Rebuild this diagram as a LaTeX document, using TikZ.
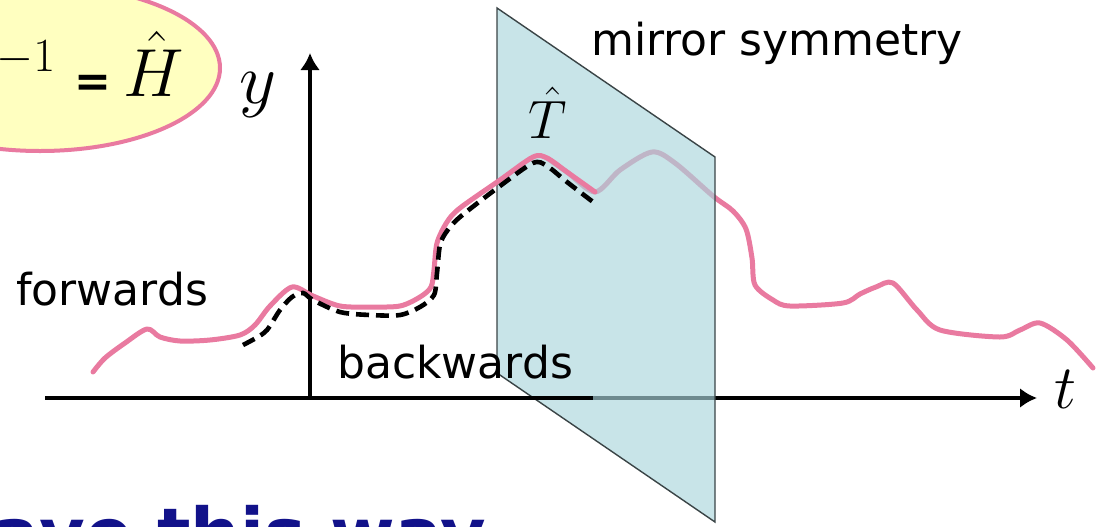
\RequirePackage{fix-cm}
\documentclass[tikz,border=0pt]{standalone}
\usepackage{fontspec}
\setmainfont{DejaVu Sans}
\usetikzlibrary{arrows.meta,positioning}
\definecolor{curvepink}{HTML}{E97AA0}
\definecolor{bubblefill}{HTML}{FFFFC0}
\definecolor{planeblue}{HTML}{AAD5DC}
\definecolor{planeedge}{HTML}{3A4446}
\definecolor{navy}{HTML}{12128A}
\tikzset{
  axisline/.style={draw=black,line width=2pt},
  axisarrow/.style={-{Latex[length=8.5pt,width=10pt]},draw=black,line width=2pt},
  fwdline/.style={draw=curvepink,line width=2.5pt,line join=round,line cap=round},
  bwdline/.style={draw=black,line width=2.3pt,dash pattern=on 6.5pt off 3.5pt},
  planebox/.style={fill=planeblue,fill opacity=0.65,draw=planeedge,line width=0.7pt},
  bubble/.style={fill=bubblefill,draw=curvepink,line width=2pt},
  labeltext/.style={font=\fontsize{22}{26}\selectfont,inner sep=0pt},
  mathlabel/.style={inner sep=0pt}
}

\begin{document}
\begin{tikzpicture}[x=0.5pt,y=-0.5pt]
      \useasboundingbox (0,0) rectangle (1099,526);
      \draw[bubble] (40,68) ellipse [x radius=180,y radius=83];
      \node[mathlabel,font=\fontsize{34}{38}\selectfont,anchor=base east] (eqn) at (184,96)
        {$\hat{T}\hat{H}\hat{T}^{-1}\mkern0mu\mathrel{\mbox{\fontsize{22}{26}\selectfont\bfseries =}}\mkern-2mu\hat{H}$};
      \coordinate (tstart) at (45,398);
      \coordinate (tend) at (1037,398);
      \coordinate (orig) at (310,398);
      \coordinate (ytop) at (310,53);
      \coordinate (front) at (593,398);
      \coordinate (p1) at (497,8);
      \coordinate (p2) at (715,157);
      \coordinate (p3) at (715,522);
      \coordinate (p4) at (497,373);
      \draw[axisarrow] (tstart) -- (tend);
      \draw[axisarrow] (orig) -- (ytop);
      \draw[fwdline] plot[smooth,tension=0.5] coordinates {(547,158) (567,172) (595,192)
        (620,170) (652,152) (675,163) (713,196) (733,211) (746,229) (752,258) (755,285)
        (773,300) (790,306) (843,303) (860,294) (876,287) (893,283) (917,310) (940,330)
        (1000,337) (1020,330) (1040,323) (1067,340) (1093,368)};
      \draw[planebox] (p1) -- (p2) -- (p3) -- (p4) -- cycle;
      \draw[axisline] (tstart) -- (front);
      \draw[fwdline] plot[smooth,tension=0.5] coordinates {(93,372) (105,358) (125,343)
        (147,329) (160,337) (180,341) (210,340) (240,335) (255,325) (270,306) (292,287)
        (313,296) (340,306) (370,307) (400,306) (420,297) (431,287) (434,270) (437,243)
        (447,222) (460,208) (500,180) (533,157) (547,158) (567,172) (595,192)};
      \draw[bwdline] plot[smooth,tension=0.5] coordinates {(243,345) (256,338) (267,330)
        (280,310) (292,297) (303,293) (313,300) (340,312) (370,315) (400,315) (420,307)
        (434,295) (437,273) (440,245) (447,231) (460,217) (500,186) (533,163) (547,166)
        (567,182) (597,205)};
      \node[labeltext,anchor=base west] (fwd) at (16,305) {forwards};
      \node[labeltext,anchor=base west] (bwd) at (337,378) {backwards};
      \node[labeltext,anchor=base west] (sym) at (591,55) {mirror symmetry};
      \node[mathlabel,font=\fontsize{27}{30}\selectfont,anchor=base] (tlabel) at (548,138) {$\hat{T}$};
      \node[mathlabel,font=\fontsize{36}{40}\selectfont,anchor=base] (ylbl) at (258,103) {$y$};
      \node[mathlabel,font=\fontsize{31}{34}\selectfont,anchor=base] (tlbl) at (1065,408) {$t$};
      \node[anchor=base west,inner sep=0pt,text=navy,font=\fontsize{35}{40}\selectfont\bfseries]
        (note) at (-8,558) {ave this way};
    \end{tikzpicture}
\end{document}
